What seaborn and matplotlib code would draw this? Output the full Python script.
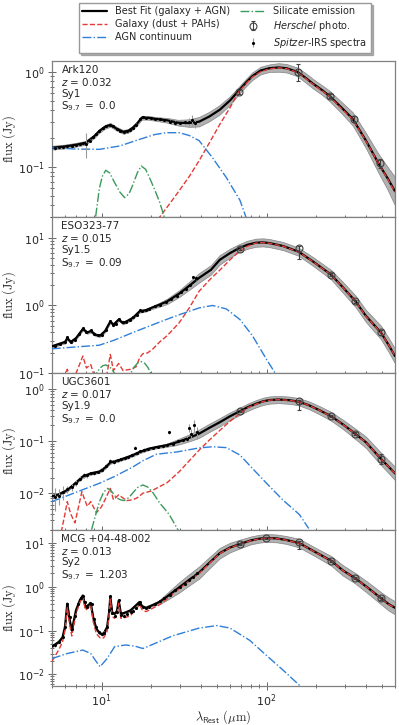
import matplotlib.pyplot as plt
import matplotlib.ticker as mticker
from matplotlib.lines import Line2D
import numpy as np
import seaborn as sns

sns.set_theme(style="ticks")
plt.rcParams["font.family"] = ["DejaVu Sans"]

names = ["Ark120", "ESO323-77", "UGC3601", "MCG +04-48-002"]
redshifts = [0.032, 0.015, 0.017, 0.013]
sy_types = ["Sy1", "Sy1.5", "Sy1.9", "Sy2"]
s97 = ["0.0", "0.09", "0.0", "1.203"]

# ---------------- Ark120 ----------------
ark_fit_wl = [5, 6, 7, 8, 9, 9.7, 10.5, 11.3, 12.5, 13.5, 14.5, 15.5, 16.5, 17.5, 19, 21.5, 25, 29, 34, 39,
              45, 52, 60, 67, 75, 82, 92, 104, 118, 132, 153, 170, 191, 215, 240, 285, 333, 400, 476, 540, 600]
ark_fit = [0.16, 0.165, 0.172, 0.18, 0.21, 0.24, 0.265, 0.278, 0.25, 0.235, 0.24, 0.26, 0.29, 0.33, 0.33, 0.32,
           0.31, 0.293, 0.29, 0.30, 0.34, 0.40, 0.50, 0.62, 0.77, 0.90, 1.03, 1.09, 1.11, 1.09, 1.0, 0.88, 0.75,
           0.65, 0.56, 0.42, 0.32, 0.19, 0.11, 0.077, 0.056]
ark_band = [0.02, 0.02, 0.02, 0.02, 0.02, 0.02, 0.02, 0.02, 0.02, 0.02, 0.02, 0.02, 0.02, 0.02, 0.02, 0.02,
            0.025, 0.03, 0.04, 0.05, 0.05, 0.05, 0.045, 0.04, 0.04, 0.04, 0.04, 0.04, 0.045, 0.045, 0.045, 0.05,
            0.05, 0.05, 0.055, 0.06, 0.07, 0.08, 0.1, 0.12, 0.15]
ark_gal_wl = [15, 18, 20, 22.5, 26, 29.6, 34, 39, 45, 52, 60, 67, 75, 82, 92, 104, 118, 132, 153, 170, 191,
              215, 240, 285, 333, 400, 476, 540, 600]
ark_gal = [0.008, 0.015, 0.021, 0.03, 0.042, 0.057, 0.08, 0.117, 0.18, 0.28, 0.42, 0.60, 0.75, 0.88, 1.0, 1.07,
           1.1, 1.08, 0.99, 0.87, 0.74, 0.64, 0.555, 0.41, 0.315, 0.188, 0.11, 0.076, 0.055]
ark_agn_wl = [5, 7, 9.7, 12.9, 17, 21, 24.6, 29.6, 34, 39, 47, 57, 69, 75, 85]
ark_agn = [0.16, 0.155, 0.154, 0.167, 0.196, 0.22, 0.23, 0.23, 0.215, 0.19, 0.126, 0.078, 0.045, 0.03, 0.02]
ark_sil_wl = [8.9, 9.2, 9.7, 10.1, 10.6, 11.2, 12.0, 12.9, 13.8, 14.7, 15.5, 16.5, 17.4, 18.5, 19.5, 21, 22.5,
              24, 26]
ark_sil = [0.015, 0.03, 0.06, 0.08, 0.093, 0.087, 0.069, 0.055, 0.048, 0.053, 0.066, 0.088, 0.103, 0.095, 0.078,
           0.058, 0.043, 0.03, 0.018]
ark_spec_wl = [5.2, 5.5, 5.8, 6.2, 6.6, 7.0, 7.4, 7.7, 8.1, 8.5, 8.9, 9.3, 9.7, 10.2, 10.7, 11.2, 11.8, 12.4,
               13.0, 13.6, 14.2, 14.8, 15.5, 16.2, 17.0, 17.8, 18.7, 19.8, 21.0, 22.5, 24.0, 26.0, 28.0, 30.0,
               32.0, 34.0, 35.5, 37.0]
ark_spec = [0.158, 0.163, 0.162, 0.166, 0.168, 0.172, 0.175, 0.178, 0.176, 0.19, 0.205, 0.225, 0.24, 0.255,
            0.268, 0.28, 0.268, 0.25, 0.24, 0.232, 0.238, 0.245, 0.258, 0.28, 0.32, 0.335, 0.33, 0.325, 0.322,
            0.318, 0.31, 0.30, 0.292, 0.29, 0.295, 0.30, 0.31, 0.29]
ark_spec_err = [0.006, 0.005, 0.005, 0.005, 0.005, 0.005, 0.005, 0.006, 0.05, 0.006, 0.006, 0.006, 0.007, 0.007,
                0.007, 0.008, 0.008, 0.008, 0.008, 0.008, 0.008, 0.008, 0.008, 0.009, 0.01, 0.01, 0.01, 0.01,
                0.01, 0.01, 0.01, 0.012, 0.012, 0.015, 0.02, 0.03, 0.04, 0.03]
ark_phot_band = [70, 160, 250, 350, 500]
ark_phot = [0.62, 1.0, 0.56, 0.32, 0.11]
ark_phot_lo = [0.03, 0.2, 0.03, 0.02, 0.012]
ark_phot_hi = [0.03, 0.2, 0.03, 0.02, 0.012]

# ---------------- ESO323-77 ----------------
eso_fit_wl = [5, 5.5, 6.0, 6.2, 6.5, 7.0, 7.7, 8.2, 8.6, 9.2, 9.8, 10.5, 11.3, 11.8, 12.7, 13.5, 14.5, 15.5, 17,
              18.5, 20, 22.5, 25, 29.6, 34, 39, 46, 52, 60, 67.5, 76, 86, 95, 104, 126, 156, 191, 246, 290, 345,
              400, 493, 550, 600]
eso_fit = [0.25, 0.27, 0.29, 0.33, 0.29, 0.33, 0.45, 0.40, 0.42, 0.37, 0.36, 0.42, 0.58, 0.52, 0.62, 0.55, 0.60,
           0.66, 0.82, 0.85, 0.92, 1.03, 1.15, 1.5, 1.95, 2.55, 3.35, 4.7, 5.9, 6.9, 7.8, 8.4, 8.5, 8.3, 7.5, 6.2,
           4.45, 2.84, 1.85, 1.16, 0.70, 0.40, 0.26, 0.18]
eso_band = [0.02, 0.02, 0.02, 0.02, 0.02, 0.02, 0.02, 0.02, 0.02, 0.02, 0.02, 0.02, 0.02, 0.02, 0.02, 0.02, 0.02,
            0.02, 0.02, 0.02, 0.02, 0.03, 0.04, 0.05, 0.06, 0.07, 0.07, 0.07, 0.065, 0.06, 0.06, 0.06, 0.06, 0.06,
            0.06, 0.06, 0.065, 0.07, 0.08, 0.085, 0.09, 0.1, 0.105, 0.11]
eso_gal_wl = [5.5, 5.9, 6.2, 6.5, 7.0, 7.4, 7.7, 8.1, 8.6, 9.2, 10, 10.8, 11.3, 11.8, 12.7, 13.5, 15, 16.2, 17,
              17.8, 19, 20.5, 22.5, 25, 29.6, 34, 39, 46, 52, 60, 67.5, 76, 86, 95, 104, 126, 156, 191, 246, 290,
              345, 400, 493, 550, 600]
eso_gal = [0.07, 0.08, 0.115, 0.08, 0.10, 0.14, 0.18, 0.12, 0.135, 0.08, 0.075, 0.10, 0.19, 0.11, 0.14, 0.11,
           0.115, 0.125, 0.17, 0.195, 0.20, 0.23, 0.29, 0.36, 0.56, 0.92, 1.62, 2.5, 3.3, 4.7, 6.1, 7.4, 8.3, 8.45,
           8.25, 7.45, 6.15, 4.42, 2.82, 1.84, 1.15, 0.69, 0.40, 0.26, 0.18]
eso_agn_wl = [5, 7, 9.7, 12, 15.5, 20, 24.6, 30, 39, 47, 57, 69, 82, 100, 113]
eso_agn = [0.23, 0.245, 0.26, 0.31, 0.40, 0.51, 0.62, 0.74, 0.92, 1.0, 0.89, 0.62, 0.36, 0.16, 0.10]
eso_sil_wl = [8.8, 9.3, 9.8, 10.2, 10.6, 11.2, 11.6, 12.0, 13.5, 15.0, 15.8, 16.6, 17.4, 18.3, 19.1, 19.9, 21]
eso_sil = [0.08, 0.10, 0.12, 0.13, 0.133, 0.125, 0.113, 0.10, 0.08, 0.10, 0.125, 0.143, 0.149, 0.14, 0.122, 0.10,
           0.08]
eso_spec_wl = [5.2, 5.6, 6.0, 6.2, 6.5, 6.9, 7.3, 7.7, 8.1, 8.6, 9.0, 9.5, 10.0, 10.6, 11.3, 11.8, 12.3, 12.8,
               13.4, 14.0, 14.8, 15.6, 16.4, 17.0, 17.6, 18.5, 19.5, 21.0, 22.5, 24.5, 26.5, 28.5, 30.5, 32.5,
               34.5, 36.0, 37.5]
eso_spec = [0.255, 0.27, 0.285, 0.34, 0.29, 0.31, 0.38, 0.46, 0.41, 0.43, 0.38, 0.365, 0.37, 0.43, 0.6, 0.52,
            0.54, 0.64, 0.57, 0.58, 0.62, 0.67, 0.72, 0.85, 0.83, 0.86, 0.9, 0.97, 1.03, 1.12, 1.25, 1.4, 1.58,
            1.75, 2.0, 2.6, 2.5]
eso_spec_err = [0.01, 0.01, 0.01, 0.012, 0.01, 0.01, 0.012, 0.014, 0.012, 0.013, 0.012, 0.012, 0.012, 0.013,
                0.016, 0.015, 0.015, 0.017, 0.016, 0.016, 0.018, 0.02, 0.02, 0.025, 0.025, 0.025, 0.03, 0.03,
                0.03, 0.035, 0.04, 0.05, 0.05, 0.06, 0.08, 0.1, 0.1]
eso_phot_band = [70, 160, 250, 350, 500]
eso_phot = [6.9, 7.1, 2.84, 1.16, 0.40]
eso_phot_lo = [0.3, 2.3, 0.15, 0.06, 0.03]
eso_phot_hi = [0.3, 0.3, 0.15, 0.06, 0.03]

# ---------------- UGC3601 ----------------
ugc_fit_wl = [5, 5.5, 6.2, 7.0, 7.7, 8.6, 9.7, 10.5, 11.3, 12.7, 14, 15.5, 17, 19.5, 22, 24.6, 28, 31, 35, 39,
              45, 52, 60, 69, 77, 86, 95, 104, 118, 138, 157, 180, 210, 246, 290, 344, 400, 492, 550, 600]
ugc_fit = [0.0087, 0.0095, 0.0115, 0.016, 0.021, 0.024, 0.026, 0.031, 0.039, 0.043, 0.048, 0.054, 0.062, 0.072,
           0.078, 0.083, 0.093, 0.104, 0.12, 0.139, 0.18, 0.23, 0.30, 0.376, 0.45, 0.52, 0.58, 0.615, 0.63, 0.61,
           0.57, 0.49, 0.39, 0.30, 0.21, 0.139, 0.095, 0.046, 0.032, 0.024]
ugc_band = [0.025, 0.025, 0.025, 0.025, 0.025, 0.025, 0.025, 0.025, 0.025, 0.025, 0.025, 0.025, 0.025, 0.025,
            0.025, 0.03, 0.05, 0.06, 0.07, 0.08, 0.08, 0.08, 0.075, 0.07, 0.07, 0.07, 0.07, 0.07, 0.07, 0.07, 0.07,
            0.075, 0.08, 0.085, 0.09, 0.1, 0.11, 0.12, 0.125, 0.13]
ugc_gal_wl = [5.7, 6.0, 6.2, 6.5, 6.9, 7.3, 7.6, 7.9, 8.2, 8.6, 9.3, 10.0, 10.7, 11.3, 11.8, 12.7, 14.2, 15.5,
              16.5, 17.8, 20, 22.5, 25, 29.6, 34, 39, 45, 52, 60, 69, 77, 86, 95, 104, 118, 138, 157, 180, 210,
              246, 290, 344, 400, 492, 550, 600]
ugc_gal = [0.0018, 0.004, 0.0069, 0.004, 0.0027, 0.006, 0.0107, 0.0075, 0.0056, 0.0069, 0.0042, 0.0055, 0.0085,
           0.0124, 0.0075, 0.0093, 0.0072, 0.0075, 0.0082, 0.010, 0.011, 0.0134, 0.016, 0.026, 0.042, 0.067,
           0.105, 0.16, 0.24, 0.34, 0.44, 0.51, 0.575, 0.612, 0.627, 0.607, 0.567, 0.487, 0.388, 0.298, 0.209,
           0.138, 0.094, 0.046, 0.032, 0.024]
ugc_agn_wl = [5, 7, 9.7, 12, 15.5, 17.8, 21.5, 28.6, 39, 47, 57, 69, 82, 100, 125, 158, 180]
ugc_agn = [0.0069, 0.0104, 0.0155, 0.021, 0.032, 0.042, 0.056, 0.062, 0.074, 0.078, 0.075, 0.054, 0.030, 0.0155,
           0.0075, 0.0039, 0.0021]
ugc_sil_wl = [8.7, 9.2, 9.7, 10.3, 10.9, 11.6, 12.3, 13.0, 13.7, 14.6, 15.5, 16.5, 17.8, 19.0, 20.5, 22.5, 25.7,
              29, 31]
ugc_sil = [0.002, 0.0038, 0.0068, 0.0105, 0.0124, 0.0105, 0.0082, 0.0075, 0.0072, 0.0082, 0.0102, 0.0128,
           0.0144, 0.0132, 0.0102, 0.0065, 0.0039, 0.002, 0.0015]
ugc_spec_wl = [5.2, 5.5, 5.8, 6.2, 6.6, 7.0, 7.4, 7.8, 8.2, 8.6, 9.0, 9.5, 10.0, 10.6, 11.3, 11.9, 12.5, 13.1,
               13.8, 14.5, 15.2, 15.9, 16.5, 17.0, 18.0, 19.2, 20.5, 22.0, 23.5, 25.0, 25.7, 27.0, 29.0, 31.0,
               33.0, 34.0, 35.0, 36.5, 38.0]
ugc_spec = [0.0085, 0.009, 0.0105, 0.012, 0.013, 0.016, 0.019, 0.022, 0.022, 0.024, 0.024, 0.026, 0.028, 0.033,
            0.042, 0.040, 0.043, 0.045, 0.047, 0.050, 0.055, 0.075, 0.058, 0.065, 0.068, 0.072, 0.075, 0.078,
            0.080, 0.085, 0.15, 0.088, 0.10, 0.105, 0.11, 0.18, 0.14, 0.2, 0.15]
ugc_spec_err = [0.004, 0.003, 0.003, 0.002, 0.002, 0.002, 0.002, 0.002, 0.002, 0.002, 0.002, 0.002, 0.002,
                0.003, 0.003, 0.003, 0.003, 0.003, 0.003, 0.004, 0.004, 0.004, 0.004, 0.004, 0.005, 0.005, 0.005,
                0.005, 0.005, 0.006, 0.01, 0.006, 0.01, 0.01, 0.015, 0.03, 0.03, 0.05, 0.04]
ugc_phot_band = [70, 160, 250, 350, 500]
ugc_phot = [0.376, 0.59, 0.30, 0.139, 0.046]
ugc_phot_lo = [0.02, 0.2, 0.015, 0.008, 0.01]
ugc_phot_hi = [0.02, 0.03, 0.015, 0.008, 0.01]

# ---------------- MCG +04-48-002 ----------------
mcg_fit_wl = [5, 5.5, 5.8, 6.0, 6.2, 6.4, 6.6, 7.0, 7.4, 7.7, 8.0, 8.3, 8.6, 8.9, 9.3, 9.8, 10.3, 10.8, 11.1,
              11.3, 11.6, 12.0, 12.4, 12.7, 13.1, 14.0, 15.0, 16.2, 17.0, 17.6, 18.6, 20, 22.5, 25, 29.6, 34, 39,
              45, 52, 60, 69, 80, 90, 100, 115, 132, 158, 200, 246, 290, 345, 410, 492, 550, 600]
mcg_fit = [0.043, 0.055, 0.07, 0.12, 0.41, 0.18, 0.10, 0.29, 0.50, 0.63, 0.34, 0.38, 0.42, 0.20, 0.11, 0.085,
           0.085, 0.12, 0.25, 0.58, 0.26, 0.24, 0.28, 0.48, 0.24, 0.26, 0.29, 0.38, 0.45, 0.36, 0.33, 0.37, 0.45,
           0.60, 0.97, 1.44, 2.1, 3.5, 5.8, 7.8, 9.4, 11.3, 12.4, 12.9, 12.6, 11.6, 9.8, 6.0, 3.9, 2.35, 1.55,
           0.95, 0.55, 0.40, 0.33]
mcg_band = [0.02, 0.02, 0.02, 0.02, 0.02, 0.02, 0.02, 0.02, 0.02, 0.02, 0.02, 0.02, 0.02, 0.02, 0.02, 0.02, 0.02,
            0.02, 0.02, 0.02, 0.02, 0.02, 0.02, 0.02, 0.02, 0.02, 0.02, 0.02, 0.02, 0.02, 0.02, 0.02, 0.05, 0.08,
            0.12, 0.13, 0.14, 0.13, 0.12, 0.11, 0.1, 0.09, 0.09, 0.09, 0.09, 0.09, 0.1, 0.1, 0.11, 0.12, 0.12,
            0.13, 0.14, 0.15, 0.15]
mcg_gal = [0.02, 0.036, 0.055, 0.1, 0.33, 0.14, 0.075, 0.24, 0.44, 0.58, 0.29, 0.33, 0.38, 0.16, 0.085, 0.068,
           0.068, 0.095, 0.21, 0.52, 0.21, 0.19, 0.23, 0.42, 0.19, 0.20, 0.22, 0.31, 0.39, 0.3, 0.27, 0.31, 0.39,
           0.53, 0.9, 1.36, 2.0, 3.4, 5.7, 7.7, 9.3, 11.2, 12.3, 12.8, 12.5, 11.5, 9.7, 5.95, 3.87, 2.33, 1.54,
           0.94, 0.545, 0.395, 0.328]
mcg_agn_wl = [5, 6.2, 7.7, 8.6, 9.3, 9.8, 10.8, 12, 14, 16, 17.8, 20.3, 27, 39, 50, 60, 79, 100, 126, 157, 170]
mcg_agn = [0.023, 0.030, 0.036, 0.030, 0.0195, 0.015, 0.023, 0.043, 0.047, 0.044, 0.039, 0.048, 0.076, 0.114,
           0.13, 0.114, 0.06, 0.027, 0.0125, 0.0058, 0.0045]
mcg_spec_wl = [5.2, 5.5, 5.8, 6.0, 6.2, 6.4, 6.6, 6.9, 7.2, 7.5, 7.7, 7.9, 8.2, 8.5, 8.7, 9.0, 9.3, 9.6, 10.0,
               10.4, 10.8, 11.1, 11.3, 11.6, 12.0, 12.4, 12.8, 13.2, 13.7, 14.3, 15.0, 15.6, 16.2, 16.8, 17.2,
               17.8, 18.6, 19.5, 21.0, 22.5, 24.0, 26.0, 28.0, 30.0, 32.0, 34.0, 36.0, 38.0]
mcg_spec = [0.046, 0.055, 0.07, 0.12, 0.40, 0.20, 0.11, 0.22, 0.40, 0.55, 0.62, 0.45, 0.35, 0.42, 0.40, 0.18,
            0.12, 0.092, 0.085, 0.088, 0.12, 0.30, 0.60, 0.25, 0.21, 0.26, 0.50, 0.23, 0.22, 0.24, 0.27, 0.28,
            0.32, 0.40, 0.44, 0.35, 0.33, 0.35, 0.40, 0.46, 0.54, 0.66, 0.82, 0.98, 1.15, 1.45, 1.7, 2.1]
mcg_spec_err = [0.004, 0.004, 0.004, 0.006, 0.02, 0.01, 0.006, 0.01, 0.02, 0.025, 0.03, 0.02, 0.015, 0.02, 0.02,
                0.01, 0.008, 0.008, 0.008, 0.008, 0.008, 0.015, 0.03, 0.012, 0.01, 0.012, 0.025, 0.01, 0.01,
                0.01, 0.012, 0.012, 0.015, 0.02, 0.02, 0.015, 0.015, 0.015, 0.02, 0.02, 0.025, 0.03, 0.04, 0.05,
                0.06, 0.08, 0.1, 0.12]
mcg_phot_band = [70, 100, 160, 250, 350, 500]
mcg_phot = [9.2, 13.1, 10.6, 3.9, 1.55, 0.55]
mcg_phot_lo = [0.5, 0.7, 3.5, 0.2, 0.08, 0.04]
mcg_phot_hi = [0.5, 0.7, 0.5, 0.2, 0.08, 0.04]

panels = [
    dict(fit_wl=ark_fit_wl, fit=ark_fit, band=ark_band, gal_wl=ark_gal_wl, gal=ark_gal,
         agn_wl=ark_agn_wl, agn=ark_agn, sil_wl=ark_sil_wl, sil=ark_sil,
         spec_wl=ark_spec_wl, spec=ark_spec, spec_err=ark_spec_err,
         phot_band=ark_phot_band, phot=ark_phot, phot_lo=ark_phot_lo, phot_hi=ark_phot_hi,
         ylim=(0.03, 1.3)),
    dict(fit_wl=eso_fit_wl, fit=eso_fit, band=eso_band, gal_wl=eso_gal_wl, gal=eso_gal,
         agn_wl=eso_agn_wl, agn=eso_agn, sil_wl=eso_sil_wl, sil=eso_sil,
         spec_wl=eso_spec_wl, spec=eso_spec, spec_err=eso_spec_err,
         phot_band=eso_phot_band, phot=eso_phot, phot_lo=eso_phot_lo, phot_hi=eso_phot_hi,
         ylim=(0.1, 20)),
    dict(fit_wl=ugc_fit_wl, fit=ugc_fit, band=ugc_band, gal_wl=ugc_gal_wl, gal=ugc_gal,
         agn_wl=ugc_agn_wl, agn=ugc_agn, sil_wl=ugc_sil_wl, sil=ugc_sil,
         spec_wl=ugc_spec_wl, spec=ugc_spec, spec_err=ugc_spec_err,
         phot_band=ugc_phot_band, phot=ugc_phot, phot_lo=ugc_phot_lo, phot_hi=ugc_phot_hi,
         ylim=(0.002, 2)),
    dict(fit_wl=mcg_fit_wl, fit=mcg_fit, band=mcg_band, gal_wl=mcg_fit_wl, gal=mcg_gal,
         agn_wl=mcg_agn_wl, agn=mcg_agn, sil_wl=None, sil=None,
         spec_wl=mcg_spec_wl, spec=mcg_spec, spec_err=mcg_spec_err,
         phot_band=mcg_phot_band, phot=mcg_phot, phot_lo=mcg_phot_lo, phot_hi=mcg_phot_hi,
         ylim=(0.0055, 20)),
]

RED = "#e23b36"
BLUE = "#2f7fd8"
GREEN = "#3a9a5c"

fig, axes = plt.subplots(4, 1, figsize=(3.99, 7.25), dpi=100, sharex=True,
                         gridspec_kw=dict(hspace=0))
fig.subplots_adjust(left=0.130, right=0.990, top=0.916, bottom=0.054)

spec_handle = phot_handle = None
for i, (ax, p) in enumerate(zip(axes, panels)):
    fit = np.array(p["fit"])
    width = 10 ** np.array(p["band"])
    ax.fill_between(p["fit_wl"], fit / width, fit * width, color="0.62", alpha=0.8,
                    edgecolor="0.45", lw=0.5, zorder=1)
    sns.lineplot(x=p["fit_wl"], y=p["fit"], ax=ax, color="black", lw=1.6, zorder=3,
                 errorbar=None, sort=False)
    sns.lineplot(x=p["gal_wl"], y=p["gal"], ax=ax, color=RED, lw=1.0, linestyle="--", zorder=4,
                 errorbar=None, sort=False)
    sns.lineplot(x=p["agn_wl"], y=p["agn"], ax=ax, color=BLUE, lw=1.0, linestyle="-.", zorder=4,
                 errorbar=None, sort=False)
    if p["sil"] is not None:
        sns.lineplot(x=p["sil_wl"], y=p["sil"], ax=ax, color=GREEN, lw=1.0, linestyle="-.", zorder=4,
                     errorbar=None, sort=False)
    sp_cont = ax.errorbar(p["spec_wl"], p["spec"], yerr=p["spec_err"], fmt=".", ms=2.5, color="black",
                          ecolor="0.6", elinewidth=0.8, capsize=0, zorder=5)
    rest = np.array(p["phot_band"]) / (1 + redshifts[i])
    ph_cont = ax.errorbar(rest, p["phot"], yerr=[p["phot_lo"], p["phot_hi"]], fmt="o", ms=5, mfc="none",
                          mec="0.25", mew=0.8, ecolor="0.25", elinewidth=0.8, capsize=1.5, zorder=6)
    if i == 0:
        spec_handle, phot_handle = sp_cont, ph_cont

    ax.set_xscale("log")
    ax.set_yscale("log")
    ax.set_xlim(5, 600)
    ax.set_ylim(*p["ylim"])
    ax.yaxis.set_minor_formatter(mticker.NullFormatter())
    ax.tick_params(which="both", direction="inout", color="0.3", width=0.6, labelsize=8,
                   top=False, right=False, pad=2)
    ax.tick_params(which="major", length=6)
    ax.tick_params(which="minor", length=3.5)
    for sp in ax.spines.values():
        sp.set_color("0.5")
        sp.set_linewidth(0.9)
    ax.set_ylabel(r"$\mathrm{flux\ (Jy)}$", math_fontfamily="cm", fontsize=9)
    ax.yaxis.set_label_coords(-0.098, 0.5)

    txt = (f"{names[i]}\n$z$ = {redshifts[i]}\n{sy_types[i]}\n"
           + r"S$_{9.7}$ $=$ " + s97[i])
    ax.text(0.028, 0.975, txt, transform=ax.transAxes, ha="left", va="top",
            fontsize=7.5, linespacing=1.1, zorder=10)

axes[-1].set_xlabel(r"$\lambda_{\mathsf{Rest}}\ (\mu\mathrm{m})$", math_fontfamily="cm",
                    fontsize=9, labelpad=-1)

handles = [
    Line2D([], [], color="black", lw=1.6),
    Line2D([], [], color=RED, lw=1.0, linestyle="--"),
    Line2D([], [], color=BLUE, lw=1.0, linestyle="-."),
    Line2D([], [], color=GREEN, lw=1.0, linestyle="-."),
    phot_handle,
    spec_handle,
]
labels = [
    "Best Fit (galaxy + AGN)",
    "Galaxy (dust + PAHs)",
    "AGN continuum",
    "Silicate emission",
    r"$\it{Herschel}$ photo.",
    r"$\it{Spitzer}$-IRS spectra",
]
leg = fig.legend(handles, labels, loc="upper center", bbox_to_anchor=(0.563, 1.003), ncol=2,
                 fontsize=7, frameon=True, shadow=dict(ox=1.5, oy=-1.5, alpha=0.4), fancybox=False,
                 framealpha=1, edgecolor="0.6", handlelength=2.6, columnspacing=1.0, borderpad=0.35,
                 labelspacing=0.3)

fig.savefig("out.png", dpi=100)
